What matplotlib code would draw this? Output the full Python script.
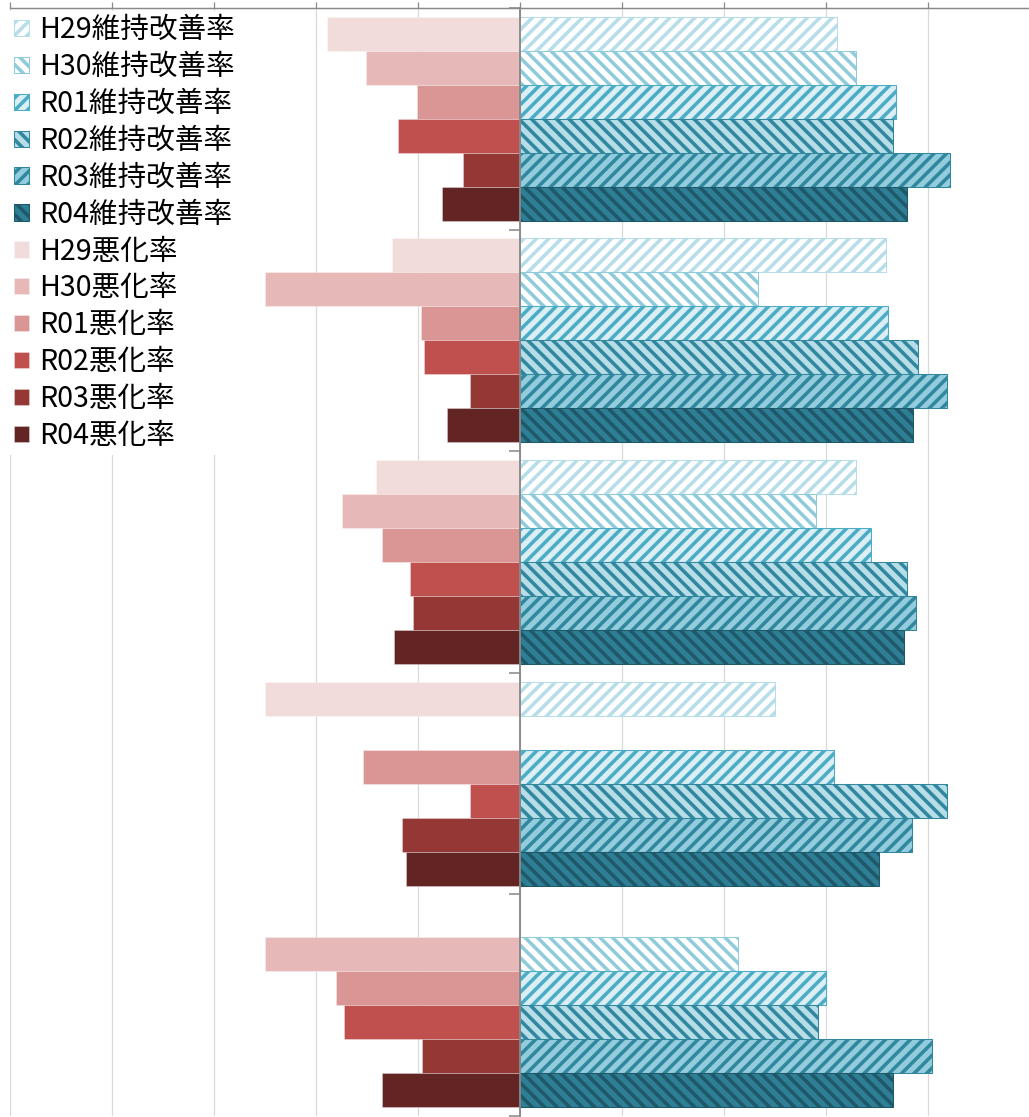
import numpy as np
import matplotlib
matplotlib.use("Agg")
import matplotlib.pyplot as plt

plt.rcParams['font.family'] = ['Noto Sans CJK JP', 'DejaVu Sans']
plt.rcParams['hatch.linewidth'] = 3.4

# 区分（上から順）
categories = ['項目1', '項目2', '項目3', '項目4', '項目5']
years = ['H29', 'H30', 'R01', 'R02', 'R03', 'R04']

# 維持改善率 (%)  rows: year, cols: category
improve = {
    'H29': [62.2, 71.8, 65.8, 50.0, np.nan],
    'H30': [65.8, 46.6, 58.0, np.nan, 42.7],
    'R01': [73.8, 72.2, 68.8, 61.6, 60.0],
    'R02': [73.1, 78.1, 75.8, 83.8, 58.5],
    'R03': [84.3, 83.8, 77.6, 76.9, 80.8],
    'R04': [75.8, 77.1, 75.3, 70.3, 73.1],
}

# 悪化率 (%)
worsen = {
    'H29': [37.9, 25.1, 28.3, 50.0, np.nan],
    'H30': [30.1, 50.0, 34.9, np.nan, 50.0],
    'R01': [20.1, 19.5, 27.1, 30.8, 36.1],
    'R02': [23.9, 18.8, 21.6, 9.8, 34.6],
    'R03': [11.1, 9.8, 21.0, 23.1, 19.3],
    'R04': [15.3, 14.3, 24.8, 22.4, 27.1],
}

red_colors = ['#F2DCDB', '#E6B9B8', '#D99694', '#C0504D', '#953735', '#632523']
blue_fill = ['#FFFFFF', '#FFFFFF', '#DAEEF3', '#B7DEE8', '#93CDDD', '#2E7E96']
blue_line = ['#B7DEE8', '#8FCBDB', '#4BACC6', '#31879E', '#31879E', '#1F5868']
hatches = ['//', '\\\\', '//', '\\\\', '//', '\\\\']

W, H, DPI = 1029, 1117, 75
fig = plt.figure(figsize=(W / DPI, H / DPI), dpi=DPI)
ax = fig.add_axes([10 / W, 1 / H, 1020 / W, 1108 / H])

y = np.arange(len(categories))
n = len(years)
bar_h = 0.92 / n

improve_handles = []
worsen_handles = []
for j, yr in enumerate(years):
    pos = y + (j - (n - 1) / 2) * bar_h
    imp = np.array(improve[yr], dtype=float)
    wor = np.array(worsen[yr], dtype=float)
    mi = ~np.isnan(imp)
    mw = ~np.isnan(wor)
    rb = ax.barh(pos[mw], -wor[mw], height=bar_h, color=red_colors[j],
                 edgecolor=(1, 1, 1, 0.35), linewidth=0.8, zorder=2,
                 label=f'{yr}悪化率')
    bb = ax.barh(pos[mi], imp[mi], height=bar_h, color=blue_fill[j],
                 edgecolor=blue_line[j], hatch=hatches[j], linewidth=1.0,
                 zorder=2, label=f'{yr}維持改善率')
    improve_handles.append(bb)
    worsen_handles.append(rb)

ax.set_xlim(-100, 100)
ax.set_ylim(len(categories) - 0.5, -0.5)

axis_gray = '#898989'
ax.set_xticks(np.arange(-100, 101, 20))
ax.xaxis.set_ticks_position('top')
ax.tick_params(axis='x', direction='out', length=6, width=1.2, color=axis_gray,
               labeltop=False, labelbottom=False)
ax.grid(axis='x', color='#D9D9D9', linewidth=1.2, zorder=0)
ax.set_axisbelow(True)

ax.set_yticks(np.arange(-0.5, len(categories), 1.0))
ax.tick_params(axis='y', direction='out', length=11, width=1.5, color=axis_gray,
               labelleft=False)

for s in ['right', 'bottom']:
    ax.spines[s].set_visible(False)
ax.spines['top'].set_color(axis_gray)
ax.spines['top'].set_linewidth(1.4)
ax.spines['top'].set_zorder(6)
ax.spines['left'].set_position(('data', 0))
ax.spines['left'].set_color(axis_gray)
ax.spines['left'].set_linewidth(1.8)
ax.spines['left'].set_zorder(3)

handles = improve_handles + worsen_handles
labels = [h.get_label() for h in handles]
leg = ax.legend(handles, labels, loc='upper left',
                bbox_to_anchor=(10 / W, 1 - 11 / H), bbox_transform=fig.transFigure,
                fontsize=27.5, frameon=True, facecolor='white', edgecolor='none',
                framealpha=1, fancybox=False, borderaxespad=0, borderpad=0.15,
                handlelength=0.5, handleheight=0.5, handletextpad=0.35,
                labelspacing=0.24)
leg.set_zorder(5)

fig.savefig('out.png', dpi=DPI)
